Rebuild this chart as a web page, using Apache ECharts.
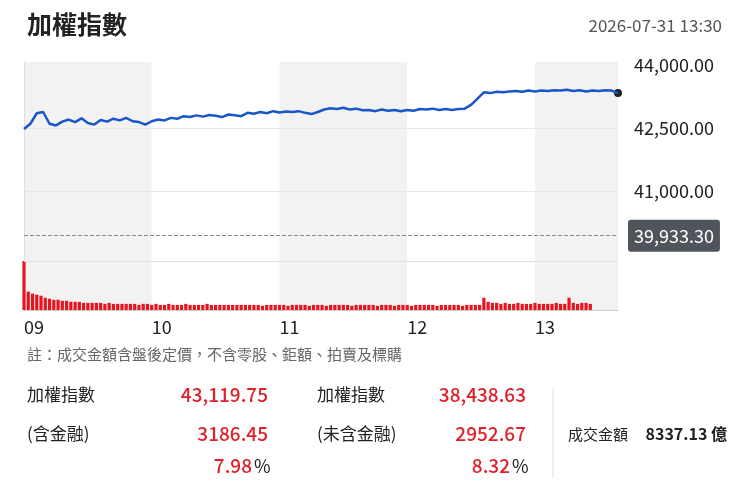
<!DOCTYPE html>
<html><head><meta charset="utf-8">
<script src="https://cdn.jsdelivr.net/npm/echarts@6/dist/echarts.min.js"></script>
<style>html,body{margin:0;padding:0;background:#fff}#c{width:750px;height:500px}</style>
</head><body><div id="c"></div>
<script>
const hourLabels = ['09','10','11','12','13'];
const yTicks = [41000, 42500, 44000];
const prevClose = 39933.30;
const priceStep = 3; // minutes between price samples
const priceValues = [42475,42600,42850,42880,42600,42560,42650,42700,42640,42730,42620,42580,42690,42650,42720,42680,42740,42660,42640,42580,42660,42700,42680,42740,42720,42780,42760,42800,42770,42810,42790,42760,42820,42800,42780,42860,42840,42880,42850,42900,42870,42890,42880,42900,42860,42830,42880,42940,42970,42950,42980,42940,42960,42920,42930,42900,42940,42910,42930,42900,42930,42910,42950,42940,42960,42930,42950,42930,42950,42960,43050,43200,43350,43330,43360,43350,43370,43380,43360,43390,43370,43390,43380,43400,43390,43410,43380,43400,43370,43390,43380,43400,43390,43330];
const volStep = 2;
const volValues = [48,18,16,15,14,12,11,10,10,9,9,8,8,8,7,7,7,7,7,6,7,6,6,6,6,6,6,5,6,6,5,6,5,5,6,5,5,5,6,5,5,5,5,6,5,5,5,5,5,5,5,5,5,5,5,5,4,5,5,5,5,5,4,5,5,5,5,4,5,5,5,4,5,5,5,5,5,4,5,5,5,5,5,4,5,5,5,4,5,5,5,4,5,5,5,5,5,4,5,5,5,5,5,4,5,5,5,5,12,8,7,7,6,7,6,6,7,6,6,6,7,6,6,6,6,7,6,6,12,7,6,7,7,6];
const summary = {
  leftLabels:['加權指數','(含金融)'], leftVals:['43,119.75','3186.45','7.98'],
  midLabels:['加權指數','(未含金融)'], midVals:['38,438.63','2952.67','8.32']
};
const title = '加權指數', stamp = '2026-07-31 13:30';
const note = '註：成交金額含盤後定價，不含零股、鉅額、拍賣及標購';

const priceData = priceValues.map((v,i)=>[i*priceStep, v]);
const volData = volValues.map((v,i)=>[i*volStep, v]);
const XMAX = (priceValues.length-1)*priceStep;
const F = '"Noto Sans CJK TC","Noto Sans",sans-serif';
const red = '#e0202a';
const txt = (x,y,t,o={}) => ({type:'text',left:o.right===undefined?x:undefined,right:o.right,top:y,style:{text:t,font:(o.w||'normal')+' '+(o.s||17)+'px '+F,fill:o.c||'#222'}});
const chart = echarts.init(document.getElementById('c'));
const xBase = {type:'value',min:0,max:XMAX,interval:60,
  splitArea:{show:true,areaStyle:{color:['#f2f2f2','#ffffff']}},splitLine:{show:false},axisTick:{show:false}};
chart.setOption({
  animation:false,
  grid:[{left:24,right:132,top:62,height:199},{left:24,right:132,top:261,height:49}],
  xAxis:[Object.assign({gridIndex:0,axisLine:{show:false},axisLabel:{show:false}},xBase),
    Object.assign({gridIndex:1,axisLine:{show:true,lineStyle:{color:'#ccc'}},
      axisLabel:{show:true,formatter:v=>hourLabels[v/60]||'',align:'left',fontSize:18,color:'#222',fontFamily:F,margin:8}},xBase)],
  yAxis:[{type:'value',gridIndex:0,position:'right',min:39331,max:44071,
      axisLine:{show:true,lineStyle:{color:'#ddd'}},axisTick:{show:false},splitLine:{show:false},
      axisLabel:{customValues:yTicks,formatter:v=>v.toLocaleString('en-US',{minimumFractionDigits:2}),fontSize:18,color:'#222',margin:16,fontFamily:F}},
    {type:'value',gridIndex:1,position:'right',min:0,max:48,axisLine:{show:true,lineStyle:{color:'#ddd'}},
      axisTick:{show:false},splitLine:{show:false},axisLabel:{show:false}}],
  series:[
    {type:'line',xAxisIndex:0,yAxisIndex:0,data:priceData,showSymbol:false,
      lineStyle:{color:'#1a56c8',width:2.5},z:5,
      markPoint:{symbol:'circle',symbolSize:8,itemStyle:{color:'#222'},label:{show:false},
        data:[{coord:priceData[priceData.length-1]}]},
      markLine:{symbol:'none',silent:true,data:[
        {yAxis:prevClose,lineStyle:{color:'#888',type:'dashed',width:1},
          label:{show:true,position:'end',distance:10,formatter:'39,933.30',color:'#fff',fontSize:18,fontFamily:F,
            backgroundColor:'#4f555b',padding:[7,6],borderRadius:3}},
        {yAxis:42500,lineStyle:{color:'#e6e6e6',type:'solid',width:1},label:{show:false}},
        {yAxis:41000,lineStyle:{color:'#e6e6e6',type:'solid',width:1},label:{show:false}},
        {yAxis:39331,lineStyle:{color:'#e0e0e0',type:'solid',width:1},label:{show:false}}]}},
    {type:'bar',xAxisIndex:1,yAxisIndex:1,data:volData,barWidth:3.2,itemStyle:{color:'#e8141e'}}
  ],
  graphic:[
    txt(27,12,title,{s:25,w:'bold'}),
    txt(0,17,stamp,{right:28,s:17,c:'#555'}),
    txt(27,347,note,{s:15,c:'#666'}),
    txt(27,386,summary.leftLabels[0]), txt(27,425,summary.leftLabels[1]),
    txt(0,385,summary.leftVals[0],{right:482,c:red,s:19,w:'500'}),
    txt(0,424,summary.leftVals[1],{right:482,c:red,s:19,w:'500'}),
    txt(0,456,summary.leftVals[2],{right:498,c:red,s:19,w:'500'}), txt(254,457,'%',{s:18}),
    txt(317,386,summary.midLabels[0]), txt(317,425,summary.midLabels[1]),
    txt(0,385,summary.midVals[0],{right:224,c:red,s:19,w:'500'}),
    txt(0,424,summary.midVals[1],{right:224,c:red,s:19,w:'500'}),
    txt(0,456,summary.midVals[2],{right:240,c:red,s:19,w:'500'}), txt(512,457,'%',{s:18}),
    {type:'line',shape:{x1:553,y1:388,x2:553,y2:478},style:{stroke:'#e0e0e0',lineWidth:1}},
    txt(568,427,'成交金額',{s:15}),
    txt(0,426,'8337.13 億',{right:23,s:16,w:'bold'})
  ]
});
</script></body></html>
